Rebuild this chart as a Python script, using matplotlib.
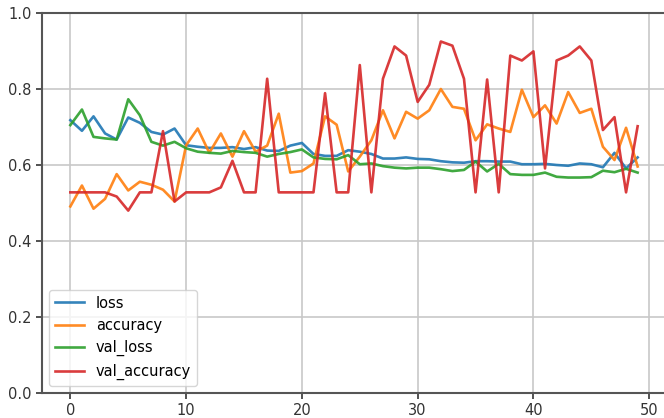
import matplotlib
matplotlib.use("Agg")
import matplotlib.pyplot as plt
import numpy as np

epochs = list(range(50))
loss = [0.718, 0.690, 0.728, 0.683, 0.667, 0.725, 0.711, 0.687, 0.680, 0.696,
        0.652, 0.648, 0.645, 0.645, 0.647, 0.642, 0.647, 0.638, 0.637, 0.651,
        0.658, 0.629, 0.624, 0.624, 0.639, 0.635, 0.629, 0.617, 0.617, 0.620,
        0.616, 0.615, 0.610, 0.607, 0.606, 0.610, 0.610, 0.609, 0.609, 0.602,
        0.602, 0.603, 0.600, 0.598, 0.604, 0.602, 0.594, 0.632, 0.591, 0.620]
accuracy = [0.491, 0.546, 0.485, 0.511, 0.576, 0.533, 0.556, 0.548, 0.535, 0.504,
            0.652, 0.696, 0.632, 0.683, 0.622, 0.689, 0.635, 0.651, 0.735, 0.580,
            0.584, 0.604, 0.728, 0.706, 0.583, 0.622, 0.665, 0.744, 0.670, 0.740,
            0.722, 0.744, 0.800, 0.753, 0.748, 0.665, 0.707, 0.696, 0.687, 0.798,
            0.726, 0.757, 0.709, 0.792, 0.737, 0.748, 0.648, 0.613, 0.698, 0.596]
val_loss = [0.705, 0.746, 0.674, 0.670, 0.667, 0.773, 0.731, 0.661, 0.651, 0.661,
            0.644, 0.635, 0.632, 0.630, 0.637, 0.634, 0.632, 0.622, 0.629, 0.634,
            0.641, 0.620, 0.616, 0.615, 0.626, 0.602, 0.604, 0.597, 0.593, 0.591,
            0.593, 0.593, 0.589, 0.584, 0.587, 0.609, 0.583, 0.603, 0.576, 0.574,
            0.574, 0.580, 0.569, 0.567, 0.567, 0.568, 0.585, 0.581, 0.590, 0.580]
val_accuracy = [0.528, 0.528, 0.528, 0.528, 0.517, 0.480, 0.528, 0.528, 0.689, 0.504,
                0.528, 0.528, 0.528, 0.541, 0.611, 0.528, 0.528, 0.827, 0.528, 0.528,
                0.528, 0.528, 0.789, 0.528, 0.528, 0.863, 0.528, 0.827, 0.912, 0.888,
                0.766, 0.811, 0.925, 0.914, 0.827, 0.528, 0.825, 0.528, 0.888, 0.875,
                0.899, 0.591, 0.875, 0.888, 0.912, 0.875, 0.692, 0.726, 0.528, 0.702]

series = [("loss", loss, "#1f77b4"),
          ("accuracy", accuracy, "#ff7f0e"),
          ("val_loss", val_loss, "#2ca02c"),
          ("val_accuracy", val_accuracy, "#d62728")]

fig = plt.figure(figsize=(6.64, 4.18), dpi=100)
ax = fig.add_axes([42/664, 25/418, 624/664, 380/418])
for name, vals, col in series:
    ax.plot(epochs, vals, color=col, lw=1.9, label=name, alpha=0.9)
ax.set_ylim(0, 1)
ax.set_xlim(-2.45, 51.45)
ax.set_xticks([0, 10, 20, 30, 40, 50])
ax.set_yticks([0.0, 0.2, 0.4, 0.6, 0.8, 1.0])
ax.grid(True, color="#c8c8c8", lw=1.2)
for s in ax.spines.values():
    s.set_color("#555555")
    s.set_linewidth(1.5)
ax.tick_params(labelsize=10.5, colors="#333333", length=4, width=1.2)
ax.legend(loc="lower left", fontsize=10.5, framealpha=0.8, handlelength=2.0)
fig.savefig("out.png", dpi=100)
